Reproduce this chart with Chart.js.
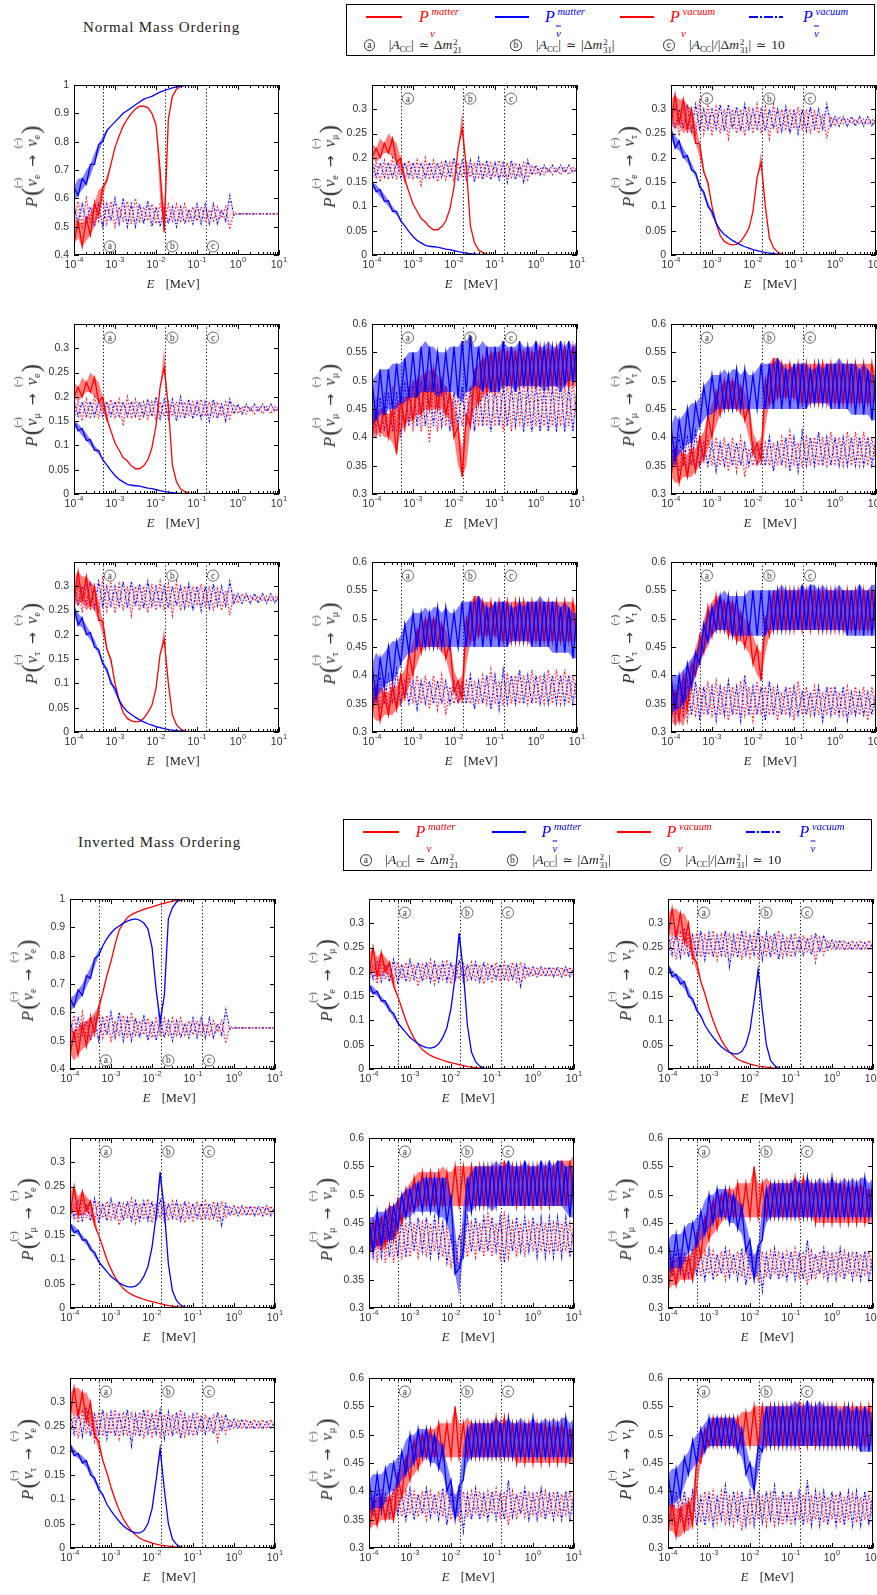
<!DOCTYPE html>
<html>
<head>
<meta charset="utf-8">
<script src="https://cdn.jsdelivr.net/npm/chart.js@4.4.1/dist/chart.umd.min.js"></script>
<style>
html, body { margin: 0; padding: 0; background: #fff; }
body { width: 877px; height: 1595px; position: relative; overflow: hidden; font-family: "Liberation Serif", "DejaVu Serif", serif; color: #222; }
canvas { position: absolute; }
.abs { position: absolute; white-space: nowrap; transform: translateY(-50%); line-height: 1; }
.title { font-size: 15px; letter-spacing: 0.9px; }
.box { position: absolute; border: 1.5px solid #000; box-sizing: border-box; }
.ls { position: absolute; height: 2.5px; }
.lp { font-style: italic; font-size: 16px; }
.lsup { font-style: italic; font-size: 10.5px; }
.lsub { font-style: italic; font-size: 11px; }
.ov { text-decoration: overline; }
.circ { position: absolute; width: 11.5px; height: 11.5px; border: 0.9px solid #333; border-radius: 50%; box-sizing: border-box;
        font-size: 9.5px; line-height: 10px; text-align: center; transform: translateY(-50%); }
.mtxt { font-size: 13.5px; }
.mtxt sub { font-size: 8.5px; vertical-align: -3px; }
.ss { display: inline-flex; flex-direction: column; font-size: 8.5px; line-height: 7.5px; vertical-align: 4px; margin-left: 1px; }
.rel { margin: 0 5px; font-family: "DejaVu Serif", serif; font-size: 12px; }
.yt { position: absolute; white-space: nowrap; font-size: 17px; line-height: 1; color: #333; transform: translate(-50%, -50%) rotate(-90deg); }
.yt .bp { font-size: 25px; margin: 0 1px; position: relative; top: 2px; }
.yt .nu { position: relative; display: inline-block; }
.yt .ovm { position: absolute; left: 50%; top: -10px; font-size: 10px; transform: translateX(-55%); letter-spacing: -1px; }
.yt sub { font-size: 10px; vertical-align: -3px; }
.yt .ar { margin: 0 8px; font-family: "DejaVu Sans", sans-serif; font-size: 14px; }
.xt { font-size: 12.5px; }
</style>
</head>
<body>
<script>
const _ = null;

// energy grid, MeV
const energyMeV = [
  1e-4, 1.26e-4, 1.58e-4, 2e-4, 2.51e-4, 3.16e-4, 3.98e-4, 5.01e-4, 6.31e-4, 7.94e-4,
  1e-3, 1.26e-3, 1.58e-3, 2e-3, 2.51e-3, 3.16e-3, 3.98e-3, 5.01e-3, 6.31e-3, 7.94e-3,
  1e-2, 1.26e-2, 1.58e-2, 2e-2, 2.51e-2, 3.16e-2, 3.98e-2, 5.01e-2, 6.31e-2, 7.94e-2,
  0.1, 0.126, 0.158, 0.2, 0.251, 0.316, 0.398, 0.501, 0.631, 0.794,
  1, 1.26, 1.58, 2, 2.51, 3.16, 3.98, 5.01, 6.31, 7.94,
  10
];
const xTickPowers = [-4, -3, -2, -1, 0, 1];
const markerEnergies = [5e-4, 1.66e-2, 0.163];
const markerLetters = ["a", "b", "c"];

// ---------- Normal ordering ----------
const noEeNuLo = [
  .44,.46,.43,.45,.47,.50,.54,.60,.66,.72,
  .78,.82,.855,.88,.90,.915,.925,.925,.92,.90,
  .86,.60,.48,.88,.96,.985,.995,.999,1,1,
  1,1,1,1,1,1,1,1,1,1,
  1,1,1,1,1,1,1,1,1,1,
  1];
const noEeNuHi = [.53,.52,.51,.53,.55,.58,.63,.64,.68,_, _,_,_,_,_,_,_,_,_,_, _,.70,.57];
const noEeBarLo = [
  .59,.61,.63,.65,.68,.72,.76,.80,.83,.855,
  .87,.885,.90,.91,.92,.93,.94,.95,.955,.96,
  .968,.975,.98,.985,.99,.993,.996,.998,1,1,
  1,1,1,1,1,1,1,1,1,1,
  1,1,1,1,1,1,1,1,1,1,
  1];
const noEeBarHi = [.64,.67,.67,.70,.72,.76,.79,.82,.84];
const eeVacLo = [
  .52,.51,.50,.52,.51,.50,.52,.50,.51,.52,
  .50,.51,.52,.50,.51,.50,.52,.51,.52,.50,
  .51,.50,.52,.51,.52,.50,.52,.51,.52,.51,
  .52,.51,.52,.51,.52,.51,.53,.52,.49,.54,
  .545,.545,.545,.545,.545,.545,.545,.545,.545,.545,
  .545];
const eeVacHi = [
  .58,.59,.58,.60,.57,.59,.58,.60,.58,.59,
  .60,.57,.60,.59,.58,.60,.58,.57,.59,.58,
  .57,.58,.57,.58,.57,.58,.57,.58,.56,.57,
  .58,.57,.58,.56,.58,.57,.56,.57,.61,.55];

const noEmNuLo = [
  .20,.19,.20,.21,.21,.20,.19,.17,.155,.13,
  .105,.09,.075,.068,.058,.052,.052,.058,.07,.095,
  .14,.22,.26,.18,.06,.025,.01,.005,.002,0,
  0,0,0,0,0,0,0,0,0,0,
  0,0,0,0,0,0,0,0,0,0,
  0];
const noEmNuHi = [.23,.22,.24,.23,.25,.24,.23,.20,.165,_, _,_,_,_,_,_,_,_,_,_, _,_,.30];
const noEmBarLo = [
  .14,.13,.12,.11,.10,.09,.082,.07,.06,.048,
  .038,.03,.025,.02,.018,.017,.016,.014,.012,.011,
  .009,.007,.0055,.004,.003,.002,.001,0,0,0,
  0,0,0,0,0,0,0,0,0,0,
  0,0,0,0,0,0,0,0,0,0,
  0];
const noEmBarHi = [.15,.145,.135,.125,.112,.10,.09,.075];
const noEmVacLo = [
  .155,.16,.15,.16,.155,.16,.155,.16,.15,.16,
  .155,.16,.14,.16,.155,.16,.15,.16,.155,.16,
  .15,.155,.16,.155,.16,.15,.16,.155,.16,.155,
  .16,.155,.16,.15,.16,.155,.16,.15,.155,.165,
  .165,.165,.165,.17,.165,.17,.165,.17,.165,.17,
  .17];
const noEmVacHi = [
  .195,.19,.19,.195,.19,.20,.19,.195,.19,.195,
  .19,.195,.19,.20,.19,.195,.19,.19,.195,.19,
  .20,.19,.195,.19,.195,.19,.20,.19,.195,.19,
  .19,.195,.19,.19,.195,.19,.185,.19,.195,.185,
  .185,.18,.185,.18,.185,.18,.185,.18,.185,.18,
  .18];

const noEtNuLo = [
  .27,.26,.27,.25,.26,.25,.23,.20,.17,.14,
  .10,.065,.04,.028,.023,.021,.022,.028,.04,.055,
  .09,.16,.19,.10,.035,.015,.006,.002,0,0,
  0,0,0,0,0,0,0,0,0,0,
  0,0,0,0,0,0,0,0,0,0,
  0];
const noEtNuHi = [.32,.33,.32,.32,.31,.30,.27,.23,.18,.15, _,_,_,_,_,_,_,_,_,_, _,_,.215];
const noEtBarLo = [
  .24,.22,.215,.20,.19,.175,.16,.14,.12,.10,
  .08,.065,.052,.042,.036,.03,.025,.021,.017,.014,
  .011,.009,.007,.005,.004,.003,.002,.001,0,0,
  0,0,0,0,0,0,0,0,0,0,
  0,0,0,0,0,0,0,0,0,0,
  0];
const noEtBarHi = [.26,.245,.235,.22,.205,.19,.17,.15,.13,.11, .09,.07];
const noEtVacLo = [
  .25,.26,.245,.26,.25,.255,.245,.26,.25,.26,
  .245,.26,.25,.255,.24,.26,.25,.255,.245,.26,
  .25,.26,.25,.255,.24,.26,.25,.255,.26,.25,
  .26,.25,.26,.255,.25,.26,.25,.26,.24,.265,
  .265,.265,.27,.265,.27,.265,.27,.265,.27,.265,
  .27];
const noEtVacHi = [
  .30,.31,.30,.305,.31,.30,.31,.315,.30,.31,
  .30,.305,.31,.30,.31,.30,.305,.30,.31,.305,
  .30,.31,.30,.305,.30,.31,.30,.30,.305,.30,
  .30,.305,.30,.30,.305,.295,.30,.29,.31,.285,
  .285,.285,.285,.28,.285,.28,.285,.28,.285,.28,
  .285];

const noMmNuLo = [
  .40,.40,.41,.40,.40,.39,.37,.41,.42,.43,
  .43,.44,.44,.45,.45,.45,.45,.45,.44,.43,
  .40,.35,.33,.35,.42,.45,.46,.47,.48,.48,
  .48,.49,.49,.49,.49,.49,.49,.49,.49,.49,
  .49,.49,.49,.49,.49,.49,.49,.49,.49,.49,
  .49];
const noMmNuHi = [
  .45,.44,.45,.45,.44,.45,.46,.47,.47,.48,
  .50,.50,.51,.51,.52,.52,.51,.50,.49,.48,
  .46,.42,.38,.44,.48,.52,.53,.54,.54,.55,
  .55,.55,.56,.55,.56,.55,.56,.55,.56,.55,
  .55,.56,.55,.56,.55,.56,.55,.56,.55,.56,
  .56];
const noMmBarLo = [
  .42,.43,.44,.44,.45,.45,.45,.46,.46,.47,
  .47,.47,.48,.48,.48,.48,.47,.48,.48,.48,
  .48,.47,.46,.48,.48,.49,.49,.48,.49,.48,
  .48,.48,.49,.49,.49,.48,.49,.49,.49,.49,
  .49,.49,.48,.49,.49,.49,.48,.49,.50,.50,
  .50];
const noMmBarHi = [
  .50,.51,.52,.52,.52,.53,.53,.53,.54,.55,
  .55,.55,.56,.57,.56,.56,.55,.55,.55,.56,
  .56,.56,.57,.57,.58,.56,.56,.57,.56,.56,
  .56,.56,.57,.56,.56,.56,.57,.56,.56,.56,
  .57,.56,.56,.57,.56,.56,.57,.56,.57,.56,
  .57];
const noMmVacLo = [
  .40,.41,.40,.41,.40,.41,.41,.40,.41,.42,
  .41,.42,.41,.42,.39,.42,.41,.42,.42,.41,
  .42,.42,.42,.42,.42,.41,.42,.42,.42,.41,
  .42,.42,.41,.42,.41,.42,.42,.41,.42,.41,
  .42,.41,.42,.41,.42,.41,.42,.41,.42,.41,
  .42];
const noMmVacHi = [
  .46,.47,.47,.48,.48,.49,.48,.49,.50,.49,
  .50,.49,.50,.49,.50,.49,.49,.50,.49,.48,
  .48,.47,.49,.48,.49,.49,.50,.49,.49,.50,
  .49,.50,.49,.50,.49,.50,.49,.50,.49,.49,
  .50,.49,.49,.50,.49,.49,.50,.49,.49,.50,
  .49];

const noMtNuLo = [
  .33,.32,.32,.33,.33,.33,.34,.35,.36,.38,
  .40,.42,.44,.45,.45,.45,.45,.44,.43,.40,
  .37,.35,.36,.42,.46,.46,.47,.47,.47,.47,
  .47,.46,.46,.46,.46,.46,.46,.46,.46,.46,
  .46,.46,.46,.46,.46,.46,.46,.46,.46,.46,
  .46];
const noMtNuHi = [
  .37,.38,.38,.37,.37,.38,.38,.40,.41,.44,
  .46,.48,.49,.50,.50,.50,.50,.49,.48,.46,
  .41,.39,.40,.50,.53,.54,.54,.53,.53,.53,
  .52,.53,.53,.53,.53,.53,.53,.53,.53,.53,
  .53,.53,.53,.53,.53,.53,.53,.53,.53,.53,
  .52];
const noMtBarLo = [
  .34,.36,.37,.38,.39,.39,.40,.42,.43,.44,
  .44,.45,.45,.45,.45,.45,.45,.45,.45,.45,
  .45,.45,.45,.45,.45,.45,.45,.45,.45,.45,
  .45,.45,.45,.45,.46,.46,.46,.46,.46,.45,
  .45,.45,.45,.45,.44,.44,.44,.44,.44,.43,
  .43];
const noMtBarHi = [
  .42,.44,.43,.44,.45,.46,.46,.47,.49,.50,
  .51,.51,.51,.52,.51,.52,.52,.51,.52,.51,
  .51,.52,.53,.53,.53,.53,.54,.53,.52,.52,
  .53,.53,.53,.53,.52,.52,.53,.52,.53,.53,
  .53,.54,.53,.53,.53,.53,.52,.53,.52,.51,
  .51];
const noMtVacLo = [
  .34,.35,.34,.35,.34,.35,.35,.35,.36,.35,
  .35,.34,.35,.35,.34,.35,.34,.35,.33,.35,
  .35,.35,.35,.35,.35,.34,.35,.35,.35,.34,
  .35,.34,.35,.35,.35,.35,.35,.35,.35,.35,
  .35,.35,.35,.35,.35,.35,.35,.35,.35,.35,
  .35];
const noMtVacHi = [
  .39,.40,.40,.39,.40,.40,.41,.40,.39,.40,
  .39,.40,.39,.40,.39,.40,.39,.40,.39,.38,
  .39,.38,.39,.39,.40,.39,.39,.40,.40,.41,
  .40,.39,.41,.40,.40,.40,.41,.40,.40,.41,
  .40,.40,.40,.41,.40,.41,.40,.41,.40,.40,
  .40];

const noTtNuLo = [
  .32,.31,.32,.31,.34,.37,.40,.42,.44,.45,
  .47,.48,.48,.48,.47,.47,.46,.46,.45,.44,
  .42,.40,.39,.44,.47,.48,.48,.48,.48,.48,
  .48,.48,.48,.48,.48,.48,.48,.48,.48,.48,
  .48,.48,.48,.48,.48,.48,.48,.48,.48,.48,
  .48];
const noTtNuHi = [
  .38,.37,.38,.40,.41,.42,.45,.47,.50,.52,
  .53,.54,.54,.53,.53,.53,.52,.51,.50,.49,
  .47,.45,.44,.50,.53,.55,.55,.55,.55,.55,
  .55,.55,.55,.55,.55,.55,.55,.55,.55,.55,
  .55,.55,.55,.55,.55,.55,.55,.55,.55,.55,
  .55];
const noTtBarLo = [
  .33,.34,.34,.35,.36,.38,.40,.42,.44,.46,
  .47,.48,.48,.48,.48,.47,.47,.47,.47,.47,
  .47,.47,.47,.47,.48,.48,.48,.48,.48,.48,
  .48,.48,.48,.48,.48,.48,.48,.48,.48,.48,
  .48,.48,.48,.47,.47,.47,.47,.47,.47,.47,
  .47];
const noTtBarHi = [
  .40,.40,.40,.41,.42,.43,.44,.46,.49,.51,
  .52,.53,.54,.55,.54,.54,.54,.54,.54,.55,
  .55,.55,.55,.55,.55,.55,.55,.56,.55,.55,
  .55,.55,.56,.55,.56,.56,.55,.56,.55,.55,
  .55,.56,.55,.55,.55,.55,.56,.55,.55,.56,
  .56];
const noTtVacLo = [
  .33,.32,.33,.33,.32,.33,.33,.32,.33,.33,
  .33,.32,.33,.33,.32,.33,.33,.32,.33,.33,
  .32,.33,.33,.32,.33,.33,.32,.33,.33,.33,
  .32,.33,.33,.33,.33,.33,.33,.32,.33,.33,
  .33,.33,.33,.32,.33,.33,.33,.33,.32,.33,
  .33];
const noTtVacHi = [
  .38,.38,.39,.38,.39,.38,.39,.38,.38,.39,
  .38,.39,.38,.38,.39,.38,.38,.39,.40,.38,
  .38,.39,.38,.38,.39,.38,.38,.37,.38,.38,
  .38,.39,.37,.38,.37,.38,.38,.37,.38,.38,
  .38,.37,.38,.38,.37,.38,.37,.38,.37,.38,
  .37];

// ---------- Inverted ordering ----------
const ioEeNuLo = [
  .45,.43,.45,.47,.48,.50,.53,.58,.67,.73,
  .78,.84,.89,.915,.935,.945,.952,.958,.963,.968,
  .972,.977,.981,.985,.989,.992,.995,.997,.999,1,
  1,1,1,1,1,1,1,1,1,1,
  1,1,1,1,1,1,1,1,1,1,
  1];
const ioEeNuHi = [.55,.53,.55,.56,.57,.58,.60,.62];
const ioEeBarLo = [
  .60,.62,.64,.66,.69,.72,.76,.80,.835,.86,
  .88,.895,.905,.915,.922,.927,.93,.925,.915,.895,
  .83,.68,.52,.66,.93,.97,.99,.997,1,1,
  1,1,1,1,1,1,1,1,1,1,
  1,1,1,1,1,1,1,1,1,1,
  1];
const ioEeBarHi = [.65,.66,.68,.70,.73,.76,.79,.82,_,_, _,_,_,_,_,_,_,_,_,_, _,_,.57];

const ioEmNuLo = [
  .19,.20,.19,.19,.20,.19,.17,.15,.125,.10,
  .08,.063,.05,.04,.033,.028,.024,.021,.018,.015,
  .013,.011,.009,.007,.005,.004,.003,.002,.001,0,
  0,0,0,0,0,0,0,0,0,0,
  0,0,0,0,0,0,0,0,0,0,
  0];
const ioEmNuHi = [.24,.25,.23,.24,.23,.22,.19];
const ioEmBarLo = [
  .16,.155,.15,.14,.13,.12,.105,.095,.085,.075,
  .065,.058,.052,.047,.044,.043,.045,.052,.065,.085,
  .125,.19,.26,.20,.09,.035,.015,.006,.002,0,
  0,0,0,0,0,0,0,0,0,0,
  0,0,0,0,0,0,0,0,0,0,
  0];
const ioEmBarHi = [.175,.17,.16,.15,.14,.13,.115,.10,_,_, _,_,_,_,_,_,_,_,_,_, _,_,.28];
const ioEmVacLo = [
  .18,.185,.175,.18,.185,.18,.18,.175,.185,.18,
  .18,.185,.17,.18,.185,.18,.175,.18,.185,.18,
  .175,.18,.185,.18,.18,.185,.18,.18,.175,.185,
  .18,.185,.18,.185,.18,.185,.18,.17,.185,.19,
  .19,.19,.19,.19,.19,.19,.19,.19,.19,.19,
  .19];
const ioEmVacHi = [
  .22,.215,.22,.225,.215,.22,.225,.22,.215,.22,
  .225,.215,.22,.215,.22,.225,.22,.215,.22,.225,
  .22,.215,.225,.22,.215,.22,.22,.215,.22,.215,
  .215,.22,.215,.22,.215,.22,.215,.22,.215,.21,
  .21,.21,.21,.21,.21,.21,.21,.21,.21,.21,
  .21];

const ioEtNuLo = [
  .27,.28,.27,.28,.26,.25,.23,.20,.18,.155,
  .125,.10,.078,.06,.046,.035,.027,.02,.016,.013,
  .01,.008,.006,.005,.004,.003,.002,.001,0,0,
  0,0,0,0,0,0,0,0,0,0,
  0,0,0,0,0,0,0,0,0,0,
  0];
const ioEtNuHi = [.32,.33,.33,.32,.32,.30,.26,.22];
const ioEtBarLo = [
  .20,.19,.185,.175,.165,.15,.135,.12,.105,.09,
  .077,.065,.055,.046,.039,.034,.031,.031,.036,.05,
  .08,.14,.19,.12,.05,.018,.007,.002,0,0,
  0,0,0,0,0,0,0,0,0,0,
  0,0,0,0,0,0,0,0,0,0,
  0];
const ioEtBarHi = [.215,.205,.195,.19,.18,.165,.145,.13,.11,_, _,_,_,_,_,_,_,_,_,_, _,_,.205];
const ioEtVacLo = [
  .23,.235,.225,.23,.235,.23,.22,.235,.23,.225,
  .235,.23,.225,.235,.23,.21,.235,.23,.225,.235,
  .23,.235,.23,.225,.235,.23,.235,.225,.23,.235,
  .23,.235,.24,.235,.24,.235,.22,.24,.235,.245,
  .245,.245,.245,.245,.245,.245,.245,.245,.245,.245,
  .245];
const ioEtVacHi = [
  .28,.275,.285,.28,.29,.28,.275,.28,.285,.275,
  .28,.285,.275,.28,.285,.28,.275,.28,.285,.28,
  .275,.28,.285,.275,.28,.275,.28,.285,.275,.27,
  .275,.28,.27,.275,.27,.275,.28,.27,.275,.265,
  .265,.265,.265,.265,.26,.265,.26,.265,.26,.265,
  .26];

const ioMmNuLo = [
  .40,.40,.41,.40,.41,.42,.42,.43,.45,.46,
  .47,.47,.48,.48,.48,.48,.48,.48,.48,.48,
  .48,.48,.48,.48,.48,.48,.48,.48,.48,.48,
  .48,.48,.48,.48,.48,.48,.48,.48,.48,.48,
  .48,.48,.48,.48,.48,.48,.48,.48,.48,.48,
  .48];
const ioMmNuHi = [
  .45,.45,.46,.46,.47,.48,.48,.49,.50,.51,
  .52,.53,.54,.54,.54,.54,.54,.54,.55,.54,
  .54,.55,.55,.55,.55,.55,.55,.55,.55,.55,
  .55,.55,.55,.56,.55,.55,.55,.55,.55,.55,
  .55,.55,.55,.55,.55,.55,.56,.56,.56,.56,
  .57];
const ioMmBarLo = [
  .40,.40,.41,.41,.42,.42,.42,.44,.46,.46,
  .46,.47,.47,.47,.47,.47,.47,.46,.46,.45,
  .42,.36,.32,.40,.47,.47,.48,.48,.48,.48,
  .47,.48,.48,.48,.48,.48,.48,.48,.48,.48,
  .48,.48,.48,.48,.48,.48,.48,.48,.47,.46,
  .46];
const ioMmBarHi = [
  .46,.46,.47,.47,.47,.48,.48,.49,.50,.51,
  .51,.52,.52,.53,.53,.53,.53,.53,.53,.53,
  .50,.44,.37,.48,.53,.54,.55,.55,.55,.55,
  .55,.56,.55,.55,.56,.55,.55,.55,.56,.55,
  .55,.55,.56,.55,.56,.55,.56,.56,.55,.55,
  .55];
const ioMmVacLo = [
  .38,.39,.38,.39,.38,.39,.38,.39,.39,.39,
  .39,.40,.39,.40,.39,.39,.40,.39,.39,.38,
  .37,.36,.37,.39,.39,.40,.39,.40,.39,.40,
  .39,.40,.39,.38,.39,.40,.39,.40,.39,.40,
  .40,.39,.40,.39,.40,.39,.40,.39,.40,.39,
  .40];
const ioMmVacHi = [
  .45,.46,.45,.46,.45,.46,.46,.45,.46,.45,
  .46,.45,.46,.45,.46,.45,.46,.45,.45,.44,
  .43,.42,.43,.45,.46,.45,.46,.45,.46,.47,
  .46,.45,.46,.47,.46,.45,.46,.45,.46,.45,
  .46,.45,.46,.45,.46,.45,.46,.45,.46,.45,
  .45];

const ioMtNuLo = [
  .33,.34,.34,.35,.35,.35,.35,.37,.39,.40,
  .42,.43,.44,.45,.46,.46,.46,.46,.46,.46,
  .46,.46,.46,.46,.46,.46,.46,.46,.46,.46,
  .46,.46,.46,.46,.46,.46,.45,.45,.45,.45,
  .45,.45,.45,.45,.45,.45,.45,.45,.45,.45,
  .45];
const ioMtNuHi = [
  .38,.38,.39,.39,.39,.39,.40,.43,.45,.46,
  .48,.49,.50,.50,.51,.51,.51,.52,.52,.52,
  .52,.55,.52,.52,.53,.52,.52,.52,.52,.52,
  .52,.53,.52,.53,.52,.52,.52,.52,.52,.52,
  .52,.52,.52,.52,.51,.52,.51,.52,.51,.51,
  .51];
const ioMtBarLo = [
  .36,.37,.37,.37,.38,.40,.40,.41,.42,.43,
  .44,.45,.46,.46,.46,.45,.45,.44,.43,.40,
  .37,.35,.36,.42,.45,.46,.46,.46,.46,.46,
  .46,.46,.46,.46,.46,.46,.46,.46,.46,.46,
  .46,.46,.46,.46,.46,.46,.46,.46,.46,.46,
  .46];
const ioMtBarHi = [
  .42,.43,.43,.43,.44,.45,.45,.46,.47,.49,
  .50,.50,.51,.51,.51,.50,.50,.49,.48,.45,
  .42,.39,.41,.48,.51,.52,.52,.52,.52,.52,
  .52,.53,.52,.52,.53,.52,.52,.53,.52,.52,
  .53,.52,.52,.53,.52,.53,.52,.53,.53,.52,
  .53];
const ioMtVacLo = [
  .35,.355,.35,.36,.35,.355,.35,.36,.355,.35,
  .36,.35,.355,.36,.35,.355,.36,.35,.355,.34,
  .35,.355,.35,.33,.355,.35,.36,.35,.355,.35,
  .36,.35,.355,.35,.34,.355,.35,.36,.355,.35,
  .36,.35,.355,.35,.36,.35,.355,.35,.36,.35,
  .355];
const ioMtVacHi = [
  .40,.395,.40,.405,.395,.40,.405,.40,.395,.40,
  .405,.40,.395,.40,.405,.40,.395,.40,.405,.41,
  .40,.395,.405,.40,.395,.40,.405,.40,.395,.40,
  .40,.405,.395,.40,.42,.40,.395,.40,.405,.40,
  .395,.40,.405,.40,.395,.40,.40,.395,.40,.40,
  .395];

const ioTtNuLo = [
  .33,.33,.32,.32,.33,.33,.34,.40,.45,.47,
  .48,.48,.48,.48,.48,.48,.48,.48,.48,.48,
  .48,.48,.48,.48,.48,.48,.48,.48,.48,.48,
  .48,.48,.48,.48,.48,.48,.48,.48,.48,.48,
  .48,.48,.48,.48,.48,.48,.48,.48,.48,.48,
  .48];
const ioTtNuHi = [
  .37,.38,.37,.37,.38,.38,.39,.46,.50,.51,
  .52,.53,.53,.53,.53,.53,.53,.53,.54,.54,
  .54,.55,.55,.55,.55,.55,.55,.55,.55,.55,
  .55,.55,.56,.55,.55,.55,.55,.55,.55,.55,
  .55,.55,.55,.55,.55,.55,.55,.55,.55,.55,
  .55];
const ioTtBarLo = [
  .37,.38,.38,.39,.41,.43,.44,.45,.46,.47,
  .48,.48,.48,.48,.48,.48,.48,.47,.46,.43,
  .41,.40,.43,.47,.48,.48,.48,.48,.48,.48,
  .48,.48,.48,.48,.48,.48,.48,.48,.48,.48,
  .48,.48,.48,.48,.48,.48,.48,.47,.47,.47,
  .47];
const ioTtBarHi = [
  .43,.44,.44,.45,.46,.47,.49,.50,.51,.52,
  .53,.53,.53,.53,.53,.53,.53,.52,.51,.48,
  .45,.44,.48,.53,.55,.55,.55,.55,.55,.55,
  .55,.56,.55,.55,.56,.55,.55,.56,.55,.55,
  .55,.55,.54,.55,.55,.54,.55,.54,.55,.54,
  .54];
const ioTtVacLo = [
  .34,.345,.34,.35,.34,.345,.35,.34,.345,.34,
  .35,.34,.345,.35,.34,.345,.34,.35,.33,.34,
  .345,.34,.35,.345,.34,.35,.34,.345,.34,.35,
  .34,.345,.35,.34,.345,.34,.35,.34,.345,.34,
  .35,.34,.345,.34,.35,.34,.345,.34,.35,.34,
  .345];
const ioTtVacHi = [
  .40,.39,.40,.395,.40,.39,.40,.405,.39,.40,
  .395,.40,.39,.40,.41,.39,.40,.395,.40,.39,
  .40,.395,.40,.39,.40,.395,.41,.39,.40,.395,
  .40,.39,.40,.395,.42,.39,.40,.395,.40,.39,
  .40,.395,.40,.39,.40,.395,.40,.39,.40,.395,
  .40];

// y ranges [min, max, step]
const ranges = { ee: [0.4, 1, 0.1], em: [0, 0.35, 0.05], et: [0, 0.35, 0.05],
                 mm: [0.3, 0.6, 0.05], mt: [0.3, 0.6, 0.05], tt: [0.3, 0.6, 0.05] };
const flavours = ["e", "μ", "τ"];
const gridKeys = [["ee", "em", "et"], ["em", "mm", "mt"], ["et", "mt", "tt"]];

const noSets = {
  ee: { nu: [noEeNuLo, noEeNuHi], bar: [noEeBarLo, noEeBarHi], vac: [eeVacLo, eeVacHi] },
  em: { nu: [noEmNuLo, noEmNuHi], bar: [noEmBarLo, noEmBarHi], vac: [noEmVacLo, noEmVacHi] },
  et: { nu: [noEtNuLo, noEtNuHi], bar: [noEtBarLo, noEtBarHi], vac: [noEtVacLo, noEtVacHi] },
  mm: { nu: [noMmNuLo, noMmNuHi], bar: [noMmBarLo, noMmBarHi], vac: [noMmVacLo, noMmVacHi] },
  mt: { nu: [noMtNuLo, noMtNuHi], bar: [noMtBarLo, noMtBarHi], vac: [noMtVacLo, noMtVacHi] },
  tt: { nu: [noTtNuLo, noTtNuHi], bar: [noTtBarLo, noTtBarHi], vac: [noTtVacLo, noTtVacHi] }
};
const ioSets = {
  ee: { nu: [ioEeNuLo, ioEeNuHi], bar: [ioEeBarLo, ioEeBarHi], vac: [eeVacLo, eeVacHi] },
  em: { nu: [ioEmNuLo, ioEmNuHi], bar: [ioEmBarLo, ioEmBarHi], vac: [ioEmVacLo, ioEmVacHi] },
  et: { nu: [ioEtNuLo, ioEtNuHi], bar: [ioEtBarLo, ioEtBarHi], vac: [ioEtVacLo, ioEtVacHi] },
  mm: { nu: [ioMmNuLo, ioMmNuHi], bar: [ioMmBarLo, ioMmBarHi], vac: [ioMmVacLo, ioMmVacHi] },
  mt: { nu: [ioMtNuLo, ioMtNuHi], bar: [ioMtBarLo, ioMtBarHi], vac: [ioMtVacLo, ioMtVacHi] },
  tt: { nu: [ioTtNuLo, ioTtNuHi], bar: [ioTtBarLo, ioTtBarHi], vac: [ioTtVacLo, ioTtVacHi] }
};

const orderings = [
  { name: "Normal Mass Ordering", sets: noSets, cols: [74, 372, 671], rows: [85, 323.5, 562], box: [346, 4], title: [83, 27] },
  { name: "Inverted Mass Ordering", sets: ioSets, cols: [70, 369, 668], rows: [899, 1138, 1378], box: [342.5, 819], title: [78, 842] }
];

// ---------- drawing ----------
Chart.defaults.font.family = '"Liberation Sans", Arial, sans-serif';

const framePlugin = {
  id: "frame",
  beforeDatasetsDraw(chart) {
    const { ctx, chartArea: a, scales: { x } } = chart;
    ctx.save();
    ctx.strokeStyle = "#000";
    ctx.lineWidth = 1;
    ctx.setLineDash([1.2, 2.3]);
    markerEnergies.forEach(e => {
      const px = Math.round(x.getPixelForValue(e)) + 0.5;
      ctx.beginPath(); ctx.moveTo(px, a.top); ctx.lineTo(px, a.bottom); ctx.stroke();
    });
    ctx.restore();
  },
  afterDatasetsDraw(chart, args, opts) {
    const { ctx, chartArea: a, scales: { x, y } } = chart;
    ctx.save();
    ctx.strokeStyle = "#000";
    ctx.lineWidth = 1;
    ctx.strokeRect(a.left + 0.5, a.top + 0.5, a.right - a.left - 1, a.bottom - a.top - 1);
    ctx.beginPath();
    xTickPowers.forEach(p => {
      for (let m = 1; m < 10; m++) {
        const v = m * Math.pow(10, p);
        if (v > x.max * 1.001) break;
        const px = Math.round(x.getPixelForValue(v)) + 0.5;
        const len = m === 1 ? 5 : 3;
        ctx.moveTo(px, a.bottom); ctx.lineTo(px, a.bottom - len);
        ctx.moveTo(px, a.top); ctx.lineTo(px, a.top + len);
      }
    });
    y.ticks.forEach(t => {
      const py = Math.round(y.getPixelForValue(t.value)) + 0.5;
      ctx.moveTo(a.left, py); ctx.lineTo(a.left + 5, py);
      ctx.moveTo(a.right, py); ctx.lineTo(a.right - 5, py);
    });
    ctx.stroke();

    // x tick labels 10^n
    ctx.fillStyle = "#333";
    ctx.textAlign = "left";
    ctx.textBaseline = "alphabetic";
    xTickPowers.forEach(p => {
      const px = x.getPixelForValue(Math.pow(10, p));
      ctx.font = '10.5px "Liberation Sans", Arial, sans-serif';
      const w1 = ctx.measureText("10").width;
      ctx.font = '7.5px "Liberation Sans", Arial, sans-serif';
      const ex = String(p);
      const w2 = ctx.measureText(ex).width;
      const x0 = px - (w1 + w2 + 0.5) / 2;
      ctx.font = '10.5px "Liberation Sans", Arial, sans-serif';
      ctx.fillText("10", x0, a.bottom + 12.5);
      ctx.font = '7.5px "Liberation Sans", Arial, sans-serif';
      ctx.fillText(ex, x0 + w1 + 0.5, a.bottom + 6.5);
    });

    // circled markers
    const cy = opts.bottom ? a.bottom - 8.6 : a.top + 13.6;
    ctx.setLineDash([]);
    ctx.lineWidth = 0.8;
    ctx.strokeStyle = "#444";
    ctx.fillStyle = "#333";
    ctx.textAlign = "center";
    ctx.textBaseline = "middle";
    ctx.font = '9.5px "Liberation Serif", serif';
    markerEnergies.forEach((e, i) => {
      const cx = x.getPixelForValue(e) + 7.3;
      ctx.beginPath(); ctx.arc(cx, cy, 5.6, 0, Math.PI * 2); ctx.stroke();
      ctx.fillText(markerLetters[i], cx, cy + 0.5);
    });
    ctx.restore();
  }
};

function hiAt(lo, hi, i) { return hi && hi[i] != null ? hi[i] : lo[i]; }

function bandSets(pair, color, rgb, alpha, width, dash, phase, order) {
  const [lo, hi] = pair;
  const hiPts = energyMeV.map((e, i) => ({ x: e, y: hiAt(lo, hi, i) }));
  const loPts = energyMeV.map((e, i) => ({ x: e, y: lo[i] }));
  const zig = energyMeV.map((e, i) => ({ x: e, y: (i + phase) % 2 ? hiAt(lo, hi, i) : lo[i] }));
  return [
    { data: hiPts, borderColor: "transparent", borderWidth: 1, pointRadius: 0, fill: false, order },
    { data: loPts, borderColor: "transparent", borderWidth: 1, pointRadius: 0, fill: "-1",
      backgroundColor: `rgba(${rgb},${alpha})`, order },
    { data: zig, borderColor: color, borderWidth: width, borderDash: dash, pointRadius: 0, fill: false, order }
  ];
}

function addDiv(cls, x, y, html, style) {
  const d = document.createElement("div");
  d.className = cls;
  d.style.left = x + "px";
  d.style.top = y + "px";
  if (style) d.style.cssText += style;
  d.innerHTML = html;
  document.body.appendChild(d);
  return d;
}

function yTitle(a, b) {
  const nu = f => `<span class="nu"><span class="ovm">(−)</span><i>ν</i></span><sub>${f}</sub>`;
  return `<i>P</i><span class="bp">(</span>${nu(a)}<span class="ar">→</span>${nu(b)}<span class="bp">)</span>`;
}

function makePanel(left, top, key, set, a, b) {
  const cv = document.createElement("canvas");
  cv.width = 287; cv.height = 212;
  cv.style.left = (left - 70) + "px";
  cv.style.top = (top - 12) + "px";
  cv.style.width = "287px"; cv.style.height = "212px";
  document.body.appendChild(cv);
  const [ymin, ymax, step] = ranges[key];
  const datasets = [
    ...bandSets(set.bar, "#0000ff", "0,0,255", 0.5, 1.3, [], 1, 1),
    ...bandSets(set.nu, "#ff0000", "255,0,0", 0.5, 1.3, [], 0, 2),
    ...bandSets(set.vac, "#ff0000", "255,0,0", 0.05, 1.1, [1.3, 2.2], 0, 3),
    ...bandSets(set.vac, "#0000ff", "0,0,255", 0.05, 1.1, [2.4, 1.6, 1.1, 1.6], 1, 3)
  ];
  new Chart(cv, {
    type: "line",
    data: { datasets },
    options: {
      responsive: false,
      animation: false,
      devicePixelRatio: 1,
      events: [],
      layout: { padding: { top: 12, right: 12, left: 0, bottom: 0 } },
      elements: { line: { tension: 0 } },
      plugins: { legend: { display: false }, tooltip: { enabled: false }, frame: { bottom: key === "ee" } },
      scales: {
        x: {
          type: "logarithmic", min: 1e-4, max: 10,
          ticks: { display: false },
          grid: { display: false, drawTicks: false },
          border: { display: false },
          afterFit: s => { s.height = 30; }
        },
        y: {
          type: "linear", min: ymin, max: ymax,
          ticks: {
            stepSize: step, padding: 5, color: "#333", font: { size: 10.5 },
            callback: v => (ymax === 0.35 && v > 0.34) ? "" : String(Math.round(v * 100) / 100)
          },
          grid: { display: false, drawTicks: false },
          border: { display: false },
          afterFit: s => { s.width = 70; }
        }
      }
    },
    plugins: [framePlugin]
  });
  addDiv("yt", left - 45, top + 81, yTitle(a, b));
  addDiv("abs xt", left + 72.7, top + 170 + 29, "<i>E</i>");
  addDiv("abs xt", left + 91.7, top + 170 + 29, "[MeV]");
}

function addLegend(L, T) {
  addDiv("box", L, T, "", "width:529px;height:52px;");
  const items = [
    { lx: 20, lw: 36, col: "#f00", dash: false, px: 73, sup: "matter", bar: false },
    { lx: 149, lw: 34, col: "#00f", dash: false, px: 199, sup: "matter", bar: true },
    { lx: 274, lw: 34, col: "#f00", dash: false, px: 324, sup: "vacuum", bar: false },
    { lx: 403, lw: 34, col: "#00f", dash: true, px: 457, sup: "vacuum", bar: true }
  ];
  items.forEach(it => {
    const bg = it.dash
      ? `background:repeating-linear-gradient(90deg, ${it.col} 0 9px, transparent 9px 11px, ${it.col} 11px 13px, transparent 13px 15px);`
      : `background:${it.col};`;
    addDiv("ls", L + it.lx, T + 11.8, "", `width:${it.lw}px;${bg}`);
    addDiv("abs lp", L + it.px, T + 13, "P", `color:${it.col};`);
    addDiv("abs lsup", L + it.px + 12.5, T + 8, it.sup, `color:${it.col};`);
    addDiv("abs lsub", L + it.px + 11, T + 28.5, it.bar ? '<span class="ov">ν</span>' : "ν", `color:${it.col};`);
  });
  const acc = '|<i>A</i><sub>CC</sub>|';
  const dm = k => `Δ<i>m</i><span class="ss"><span>2</span><span>${k}</span></span>`;
  const rows = [
    { cx: 17.5, tx: 42.7, l: "a", t: `${acc}<span class="rel">≃</span>${dm("21")}` },
    { cx: 164, tx: 190, l: "b", t: `${acc}<span class="rel">≃</span>|${dm("31")}|` },
    { cx: 317, tx: 343, l: "c", t: `${acc}/|${dm("31")}|<span class="rel">≃</span>10` }
  ];
  rows.forEach(r => {
    addDiv("circ", L + r.cx, T + 41, r.l);
    addDiv("abs mtxt", L + r.tx, T + 42, r.t);
  });
}

orderings.forEach(ord => {
  addDiv("abs title", ord.title[0], ord.title[1], ord.name);
  addLegend(ord.box[0], ord.box[1]);
  ord.rows.forEach((top, r) => ord.cols.forEach((left, c) => {
    const key = gridKeys[r][c];
    makePanel(left, top, key, ord.sets[key], flavours[r], flavours[c]);
  }));
});
</script>
</body>
</html>
